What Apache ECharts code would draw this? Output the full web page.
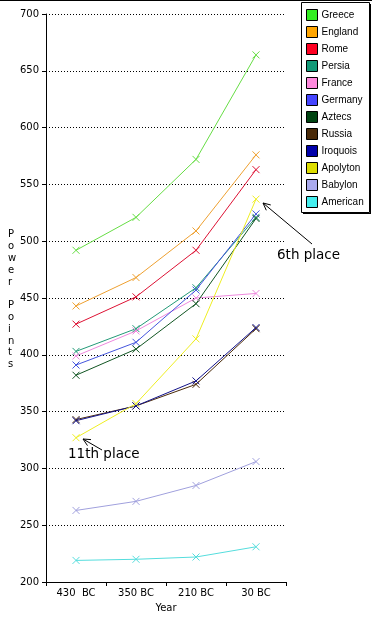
<!DOCTYPE html>
<html><head><meta charset="utf-8">
<script src="https://cdn.jsdelivr.net/npm/echarts@6/dist/echarts.min.js"></script>
<style>html,body{margin:0;padding:0;background:#fff}#c{width:372px;height:618px}</style>
</head><body><div id="c"></div>
<script>
const years = ['430  BC', '350 BC', '210 BC', '30 BC'];
const yTicks = {min: 200, max: 700, step: 50};
const names = ['Greece','England','Rome','Persia','France','Germany','Aztecs','Russia','Iroquois','Apolyton','Babylon','American'];
const swatch = ['#33ee22','#ffa500','#ff0022','#119977','#ff88dd','#4444ff','#004411','#4a2a08','#0000aa','#dddd00','#aaaaee','#44eeee'];
const lineCol = ['#66dd44','#eea030','#dd1133','#229977','#ee88dd','#4455dd','#115522','#4a2a08','#111188','#eeee22','#a0a0dd','#55dddd'];
const greece   = [492, 521, 572, 664];
const england  = [443, 468, 509, 576];
const rome     = [427, 451, 492, 563];
const persia   = [403, 423, 459, 521];
const france   = [399, 421, 450, 454];
const germany  = [391, 411, 457, 524];
const aztecs   = [382, 405, 445, 520];
const russia   = [343, 355, 374, 423];
const iroquois = [342, 355, 377, 424];
const apolyton = [327, 357, 414, 537];
const babylon  = [263, 271, 285, 306];
const american = [219, 220, 222, 231];
const values = [greece, england, rome, persia, france, germany, aztecs, russia, iroquois, apolyton, babylon, american];

const chart = echarts.init(document.getElementById('c'));
const ff = 'DejaVu Sans';
function arrow(x1, y1, x2, y2) {
  const a = Math.atan2(y2 - y1, x2 - x1), L = 8, s = 0.45;
  return {type: 'group', children: [
    {type: 'line', shape: {x1, y1, x2, y2}, style: {stroke: '#000', lineWidth: 1}},
    {type: 'polyline', shape: {points: [
      [x2 - L * Math.cos(a - s), y2 - L * Math.sin(a - s)], [x2, y2],
      [x2 - L * Math.cos(a + s), y2 - L * Math.sin(a + s)]]}, style: {stroke: '#000', fill: null, lineWidth: 1}}
  ]};
}
chart.setOption({
  animation: false,
  color: lineCol,
  grid: {left: 46, right: 86, top: 14, bottom: 35},
  legend: {
    orient: 'vertical', left: 306, top: 9, itemWidth: 11, itemHeight: 11, itemGap: 5,
    icon: 'rect', padding: 0,
    data: names.map((n, i) => ({name: n, itemStyle: {color: swatch[i], borderColor: '#000', borderWidth: 1}})),
    textStyle: {fontFamily: 'Liberation Sans', fontSize: 10, lineHeight: 11, color: '#000', padding: [0, 0, 0, -1]}
  },
  xAxis: {
    type: 'category', data: years, boundaryGap: true,
    axisLine: {lineStyle: {color: '#000', width: 1}},
    axisTick: {show: true, length: 4, lineStyle: {color: '#000'}},
    axisLabel: {color: '#000', fontFamily: ff, fontSize: 10, margin: 6},
    name: 'Year', nameLocation: 'middle', nameGap: 21,
    nameTextStyle: {color: '#000', fontFamily: ff, fontSize: 10}
  },
  yAxis: {
    type: 'value', min: yTicks.min, max: yTicks.max, interval: yTicks.step,
    axisLine: {show: true, lineStyle: {color: '#000', width: 1}},
    axisTick: {show: true, length: 4, lineStyle: {color: '#000'}},
    axisLabel: {color: '#000', fontFamily: ff, fontSize: 10, margin: 7},
    splitLine: {show: true, lineStyle: {color: '#000', type: [1, 2], width: 1}}
  },
  series: names.map((n, i) => ({
    name: n, type: 'line', data: values[i],
    symbol: 'path://M0,0L10,10M10,0L0,10', symbolSize: 7,
    itemStyle: {color: swatch[i], borderColor: lineCol[i], borderWidth: 1},
    lineStyle: {color: lineCol[i], width: 1},
    emphasis: {disabled: true}
  })),
  graphic: [
    {type: 'rect', shape: {x: 301.5, y: 2.5, width: 68, height: 210}, style: {fill: null, stroke: '#000', lineWidth: 1}},
    {type: 'line', shape: {x1: 370.5, y1: 4, x2: 370.5, y2: 214}, style: {stroke: '#000', lineWidth: 1}},
    {type: 'line', shape: {x1: 303, y1: 213.5, x2: 371, y2: 213.5}, style: {stroke: '#000', lineWidth: 1}},
    {type: 'line', shape: {x1: 0, y1: 0.5, x2: 372, y2: 0.5}, style: {stroke: '#000', lineWidth: 1}},
    {type: 'text', left: 8, top: 229, style: {text: 'P\no\nw\ne\nr\n\nP\no\ni\nn\nt\ns', font: '10px "DejaVu Sans"', lineHeight: 11.8, fill: '#000', align: 'center'}},
    {type: 'text', left: 277, top: 248, style: {text: '6th place', font: '13.5px "DejaVu Sans"', fill: '#000'}},
    {type: 'text', left: 68, top: 447, style: {text: '11th place', font: '13.5px "DejaVu Sans"', fill: '#000'}},
    arrow(312, 244, 263, 203),
    arrow(102, 450, 83, 439)
  ]
});
</script></body></html>
